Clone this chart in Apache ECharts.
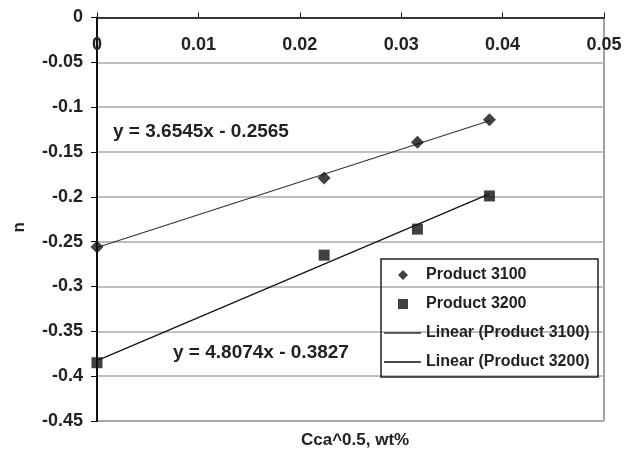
<!DOCTYPE html>
<html>
<head>
<meta charset="utf-8">
<script src="https://cdn.jsdelivr.net/npm/echarts@6/dist/echarts.min.js"></script>
<style>
	html, body { margin: 0; padding: 0; background: #fff; }
	#chart { width: 627px; height: 452px; }
</style>
</head>
<body>
<div id="chart"></div>
<script>
	// measured points
	var xValues = [0, 0.0224, 0.0316, 0.0387];
	var product3100 = [-0.256, -0.179, -0.139, -0.114];
	var product3200 = [-0.385, -0.265, -0.236, -0.199];
	// trend line end points
	var trendX = [0, 0.0387];
	var trend3100 = [-0.2565, -0.1151];
	var trend3200 = [-0.3827, -0.1967];
	var seriesNames = ['Product 3100', 'Product 3200', 'Linear (Product 3100)', 'Linear (Product 3200)'];
	var equations = ['y = 3.6545x - 0.2565', 'y = 4.8074x - 0.3827'];

	function pairs(xs, ys) {
		return xs.map(function(x, i) { return [x, ys[i]]; });
	}

	var font = '"Liberation Sans", Arial, sans-serif';
	var legendText = {
		fontFamily: font,
		fontSize: 16,
		fontWeight: 'bold',
		color: '#222',
		lineHeight: 16
	};
	var chart = echarts.init(document.getElementById('chart'));
	var option = {
		animation: false,
		textStyle: { fontFamily: font },
		grid: {
			show: true,
			left: 97,
			right: 23,
			top: 17.5,
			bottom: 31,
			borderColor: '#444',
			borderWidth: 1
		},
		legend: [
			{
				// marker entries
				orient: 'vertical',
				left: 398,
				top: 267,
				padding: 0,
				itemWidth: 10,
				itemHeight: 10,
				itemGap: 13,
				data: [
					{ name: seriesNames[0], icon: 'diamond' },
					{ name: seriesNames[1], icon: 'rect' }
				],
				textStyle: Object.assign({ padding: [0, 0, 0, 13] }, legendText)
			},
			{
				// trend line entries
				orient: 'vertical',
				left: 384,
				top: 325,
				padding: 0,
				itemWidth: 37,
				itemHeight: 1.5,
				itemGap: 13,
				data: [
					{ name: seriesNames[2], icon: 'rect' },
					{ name: seriesNames[3], icon: 'rect' }
				],
				textStyle: legendText
			}
		],
		xAxis: {
			type: 'value',
			position: 'top',
			min: 0,
			max: 0.05,
			interval: 0.01,
			axisLine: { show: true, onZero: false, lineStyle: { color: '#111', width: 1.5 } },
			axisTick: { show: true, length: 5, lineStyle: { color: '#111' } },
			axisLabel: {
				inside: true,
				margin: 19,
				fontFamily: font,
				fontSize: 18,
				fontWeight: 'bold',
				color: '#222'
			},
			splitLine: { show: false }
		},
		yAxis: {
			type: 'value',
			min: -0.45,
			max: 0,
			interval: 0.05,
			axisLine: { show: true, onZero: false, lineStyle: { color: '#111', width: 2 } },
			axisTick: { show: true, length: 6, lineStyle: { color: '#111' } },
			axisLabel: {
				margin: 14,
				fontFamily: font,
				fontSize: 18,
				fontWeight: 'bold',
				color: '#222'
			},
			splitLine: { show: true, lineStyle: { color: '#aaa', width: 1.5 } }
		},
		series: [
			{
				name: seriesNames[0],
				type: 'scatter',
				symbol: 'diamond',
				symbolSize: 13,
				itemStyle: { color: '#111' },
				z: 5,
				data: pairs(xValues, product3100)
			},
			{
				name: seriesNames[1],
				type: 'scatter',
				symbol: 'rect',
				symbolSize: 11,
				itemStyle: { color: '#111' },
				z: 5,
				data: pairs(xValues, product3200)
			},
			{
				name: seriesNames[2],
				type: 'line',
				symbol: 'none',
				lineStyle: { color: '#333', width: 1.2 },
				itemStyle: { color: '#333' },
				data: pairs(trendX, trend3100)
			},
			{
				name: seriesNames[3],
				type: 'line',
				symbol: 'none',
				lineStyle: { color: '#111', width: 1.2 },
				itemStyle: { color: '#111' },
				data: pairs(trendX, trend3200)
			}
		],
		graphic: [
			{
				// legend frame (transparent, grid lines show through)
				type: 'rect', z: 10,
				shape: { x: 381, y: 259, width: 217, height: 118 },
				style: { fill: 'none', stroke: '#222', lineWidth: 1.5 }
			},
			{
				type: 'text', left: 113, top: 122,
				style: { text: equations[0], font: 'bold 19px ' + font, fill: '#222' }
			},
			{
				type: 'text', left: 173, top: 343,
				style: { text: equations[1], font: 'bold 19px ' + font, fill: '#222' }
			},
			{
				type: 'text', left: 301, top: 432,
				style: { text: 'Cca^0.5, wt%', font: 'bold 17px ' + font, fill: '#222' }
			},
			{
				type: 'text', left: 11, top: 222, rotation: Math.PI / 2,
				style: { text: 'n', font: 'bold 17px ' + font, fill: '#222' }
			}
		]
	};
	chart.setOption(option);
</script>
</body>
</html>
